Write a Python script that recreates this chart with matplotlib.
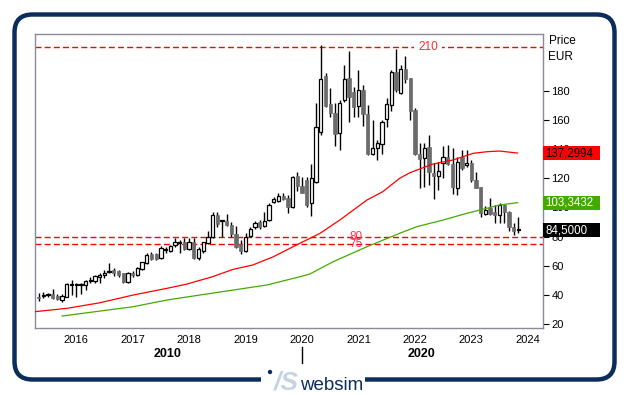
import numpy as np
import pandas as pd
import matplotlib
matplotlib.use("Agg")
import matplotlib.pyplot as plt
from matplotlib.patches import FancyBboxPatch, Rectangle, Circle
from matplotlib.lines import Line2D
import matplotlib.transforms as mtrans

plt.rcParams['font.family'] = ['Liberation Sans', 'DejaVu Sans']

# ---------------- data (monthly candles, EUR) ----------------
start_month = "2015-05"
opens = [38.6, 39.6, 39.8, 40.4, 39.5, 36.5, 38.8, 46.8, 46.9, 47.0,
         46.6, 49.9, 49.3, 52.1, 53.4, 55.6, 57.3, 56.4, 54.8, 48.9,
         55.3, 53.5, 57.8, 61.7, 68.1, 67.8, 65.1, 71.0, 69.9, 74.0,
         75.8, 76.1, 71.5, 76.1, 65.5, 70.4, 75.9, 79.5, 94.8, 90.9,
         90.7, 87.8, 81.6, 74.7, 70.2, 80.4, 86.4, 90.3, 87.3, 91.4,
         103.5, 104.7, 107.9, 106.3, 100.5, 121.6, 115.0, 118.8, 103.3, 117.7,
         152.0, 190.1, 170.9, 165.0, 151.3, 173.7, 189.0, 179.4, 169.8, 180.5,
         164.1, 136.4, 140.5, 143.3, 160.4, 170.2, 192.6, 178.2, 194.7, 189.0,
         166.8, 136.4, 133.7, 141.2, 123.9, 121.8, 130.3, 134.8, 129.8, 113.1,
         134.4, 128.9, 130.7, 118.8, 114.3, 95.5, 99.4, 97.1, 94.8, 101.7,
         97.1, 86.8, 84.5]
highs = [41.1, 42.0, 41.5, 43.9, 40.7, 40.4, 48.0, 50.3, 48.4, 48.0,
         50.3, 52.5, 53.7, 54.8, 57.1, 61.7, 58.2, 57.1, 55.3, 56.0,
         56.7, 59.4, 62.8, 68.5, 69.7, 68.5, 73.6, 73.1, 74.3, 78.8,
         77.7, 78.8, 78.8, 78.8, 73.1, 76.6, 83.9, 97.1, 96.7, 91.4,
         95.5, 90.3, 87.3, 77.7, 82.7, 86.8, 90.7, 91.4, 97.1, 102.8,
         107.0, 110.2, 110.2, 108.5, 121.6, 124.5, 121.1, 121.1, 129.8, 171.4,
         211.4, 192.0, 181.7, 171.4, 173.7, 197.7, 207.3, 182.8, 194.2, 184.0,
         170.2, 160.0, 146.3, 160.0, 174.8, 194.2, 208.6, 197.7, 203.8, 189.0,
         168.0, 144.0, 144.0, 149.7, 130.3, 131.4, 142.1, 142.8, 140.5, 134.4,
         139.4, 139.4, 132.5, 124.5, 114.3, 101.0, 106.3, 101.7, 102.8, 102.4,
         97.8, 89.1, 93.7]
lows = [35.6, 37.7, 38.4, 37.0, 36.5, 35.4, 38.4, 40.0, 38.8, 40.7,
        43.4, 48.4, 48.4, 48.4, 51.6, 54.8, 53.0, 52.5, 48.4, 47.9,
        52.1, 53.0, 57.1, 61.2, 64.0, 64.0, 64.7, 68.6, 69.7, 73.1,
        68.6, 70.8, 70.8, 64.7, 64.0, 68.6, 75.0, 78.9, 86.8, 79.5,
        87.3, 79.5, 72.0, 68.1, 69.7, 80.0, 85.0, 85.0, 86.4, 91.0,
        102.8, 104.0, 105.0, 96.0, 99.4, 111.5, 109.7, 100.5, 94.2, 117.0,
        149.7, 169.1, 162.3, 142.1, 139.4, 172.5, 158.8, 161.8, 161.8, 155.8,
        136.0, 136.0, 132.5, 136.4, 155.4, 166.4, 179.4, 177.8, 185.1, 160.0,
        136.0, 113.1, 114.3, 115.4, 105.6, 112.0, 120.0, 129.1, 109.2, 108.5,
        125.7, 128.0, 117.7, 113.1, 93.7, 94.8, 94.8, 89.1, 89.1, 89.1,
        84.1, 81.1, 82.7]
closes = [38.0, 40.2, 40.2, 38.1, 37.2, 39.3, 47.5, 47.4, 47.3, 47.3,
          49.8, 50.6, 53.0, 53.9, 55.3, 56.1, 55.0, 53.7, 48.9, 55.3,
          53.7, 58.3, 62.4, 67.4, 64.9, 64.4, 72.0, 71.6, 73.4, 76.1,
          76.3, 71.5, 76.1, 65.1, 71.5, 76.3, 80.0, 94.8, 88.7, 91.3,
          87.8, 81.6, 73.1, 70.2, 79.5, 85.5, 89.1, 86.8, 91.0, 101.7,
          105.6, 107.9, 106.0, 100.5, 121.1, 115.0, 110.1, 101.7, 120.0, 154.9,
          187.8, 169.8, 165.0, 150.4, 171.4, 187.8, 176.0, 169.1, 180.5, 164.1,
          136.4, 140.5, 144.0, 158.8, 170.7, 192.6, 180.5, 194.7, 187.8, 166.4,
          136.4, 133.0, 141.0, 124.5, 121.6, 125.0, 134.8, 129.8, 114.3, 131.4,
          126.8, 130.3, 118.8, 113.6, 96.4, 98.3, 95.5, 94.8, 101.7, 97.1,
          86.4, 84.1, 84.5]

# moving averages (read at points along the lines)
ma_red_x = [2015.27, 2015.84, 2016.42, 2017.01, 2017.61, 2017.96, 2018.42, 2018.78,
            2019.13, 2019.49, 2019.96, 2020.32, 2020.67, 2021.15, 2021.43, 2021.73,
            2021.91, 2022.32, 2022.67, 2023.03, 2023.27, 2023.50, 2023.82]
ma_red_y = [28.6, 30.9, 34.7, 40.0, 44.6, 47.5, 52.6, 57.6,
            60.6, 66.2, 75.4, 82.3, 91.4, 105.1, 110.8, 120.0,
            123.8, 129.8, 132.5, 137.1, 138.2, 138.7, 137.3]
ma_green_x = [2015.75, 2016.42, 2017.01, 2017.61, 2018.19, 2018.78, 2019.38, 2019.96,
              2020.14, 2020.55, 2021.15, 2021.73, 2022.03, 2022.50, 2022.92, 2023.20,
              2023.50, 2023.82]
ma_green_y = [25.6, 29.0, 32.0, 36.6, 40.0, 43.4, 46.9, 52.5,
              54.4, 62.8, 73.1, 82.3, 86.8, 91.4, 96.0, 98.7,
              101.7, 103.3]

levels = [210, 80, 75]
level_labels = ["210", "80", "75"]
last_red, last_green, last_price = "137,2994", "103,3432", "84,5000"
val_red, val_green, val_price = 137.2994, 103.3432, 84.5
year_ticks = [2016, 2017, 2018, 2019, 2020, 2021, 2022, 2023, 2024]
y_ticks = [20, 40, 60, 80, 100, 120, 140, 160, 180]
decade_labels = ["2010", "2020"]

# ---------------- figure ----------------
W, H = 629, 395
fig = plt.figure(figsize=(W / 100, H / 100), dpi=100)
fig.patch.set_facecolor('white')

def fx(px):
    return px / W

def fy(py):
    return 1 - py / H

ax = fig.add_axes([fx(35), fy(328), 508 / W, 294 / H])

months = pd.period_range(start_month, periods=len(opens), freq='M')
x = np.asarray(months.year + (months.month - 1) / 12.0, dtype=float)
o = np.array(opens); h = np.array(highs); l = np.array(lows); c = np.array(closes)
up = c >= o
bottoms = np.minimum(o, c)
heights = np.maximum(np.abs(c - o), 0.6)
bw = 0.058

ax.vlines(x, l, h, color='black', lw=1.0, zorder=3)
ax.bar(x[up], heights[up], bottom=bottoms[up], width=bw, facecolor='white',
       edgecolor='black', lw=0.9, zorder=4)
ax.bar(x[~up], heights[~up], bottom=bottoms[~up], width=bw, facecolor='#6b6b6b',
       edgecolor='#6b6b6b', lw=0.5, zorder=4)

ax.plot(ma_red_x, ma_red_y, color='#ff0000', lw=0.9, zorder=5)
ax.plot(ma_green_x, ma_green_y, color='#44aa00', lw=0.9, zorder=5)

for lv in levels:
    ax.axhline(lv, color='#ff0000', lw=1.0, dashes=(4.3, 2.3), zorder=2)
ax.text(2022.23, levels[0], level_labels[0], color='#ff2a2a', fontsize=8.5,
        ha='center', va='center', zorder=6,
        bbox=dict(facecolor='white', edgecolor='none', pad=3))
ax.text(2020.96, levels[1], level_labels[1], color='#ff3355', fontsize=8.5,
        ha='center', va='center', zorder=6)
ax.text(2020.95, levels[2], level_labels[2], color='#ff3355', fontsize=8.5,
        ha='center', va='center', zorder=6)

ax.set_xlim(2015.27, 2024.27)
ax.set_ylim(17.4, 218.9)
ax.set_xticks(year_ticks)
ax.set_xticklabels([str(v) for v in year_ticks])
ax.set_yticks(y_ticks)
ax.yaxis.tick_right()
ax.tick_params(axis='x', length=0, labelsize=8, pad=5)
ax.tick_params(axis='y', length=4, labelsize=8, pad=2, direction='out')
for sp in ax.spines.values():
    sp.set_color('#8a8a9a')
    sp.set_linewidth(1.0)

# value boxes on the right
ytr = ax.get_yaxis_transform()
for val, txt, fc, tc in [(val_red, last_red, '#ff0000', 'black'),
                         (val_green, last_green, '#44aa00', 'white'),
                         (val_price, last_price, '#000000', 'white')]:
    ax.add_patch(Rectangle((1.0, val - 4.8), 57 / 508, 9.6, transform=ytr,
                           facecolor=fc, edgecolor='none', clip_on=False, zorder=10))
    ax.text(1.004, val, txt, transform=ytr, color=tc, fontsize=8.3,
            ha='left', va='center', clip_on=False, zorder=11)

fig.text(fx(549), fy(41.5), "Price", fontsize=8.5, ha='left', va='center')
fig.text(fx(548), fy(57), "EUR", fontsize=8.5, ha='left', va='center')

fig.text(fx(167.7), fy(354), decade_labels[0], fontsize=9, fontweight='bold',
         ha='center', va='center')
fig.text(fx(421.7), fy(354), decade_labels[1], fontsize=9, fontweight='bold',
         ha='center', va='center')
fig.add_artist(Line2D([fx(301.7), fx(301.7)], [fy(347), fy(363)], color='black', lw=1))

# frame
ident = mtrans.IdentityTransform()
frame = FancyBboxPatch((14.5, H - 379.5), 600, 365,
                       boxstyle='round,pad=0,rounding_size=18',
                       linewidth=3.2, edgecolor='#0c2d5c', facecolor='none',
                       transform=ident)
fig.add_artist(frame)
fig.add_artist(Rectangle((261, H - 385), 104, 10, transform=ident,
                         facecolor='white', edgecolor='none'))
fig.add_artist(Circle((270, H - 372), 2.2, transform=ident,
                      facecolor='#0c2d5c', edgecolor='none'))
fig.text(fx(286), fy(390), "/S", fontsize=19, fontweight='bold', fontstyle='italic',
         color='#c6d3e5', ha='center', va='baseline')
fig.text(fx(300.5), fy(390), "websim", fontsize=13.5, color='#0c2d5c',
         ha='left', va='baseline')

fig.savefig("out.png", dpi=100)
